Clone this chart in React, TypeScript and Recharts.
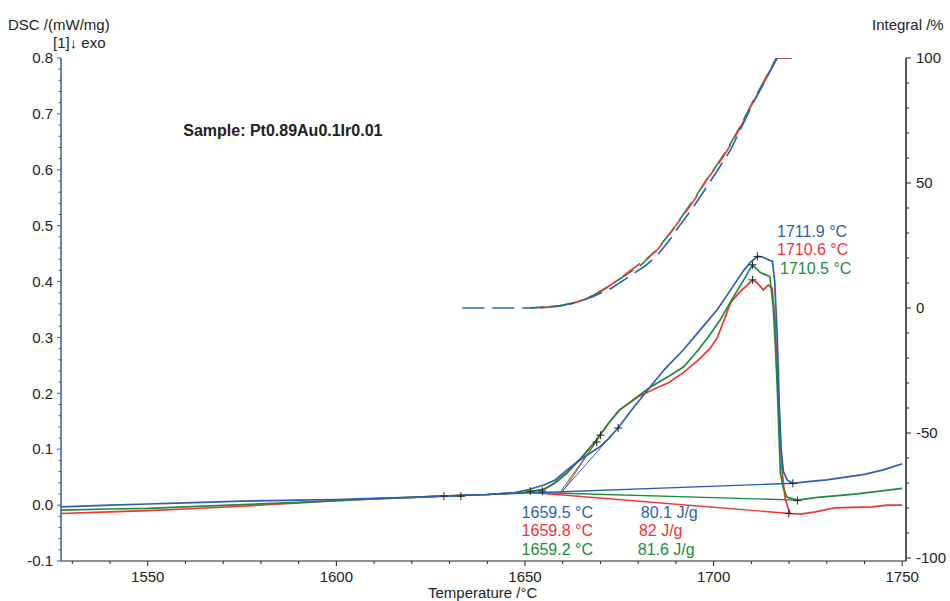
import { ComposedChart, Line, Scatter, XAxis, YAxis, ReferenceDot } from "recharts";

const FONT = "'Liberation Sans', Arial, sans-serif";
const BLUE = "#2b5fb4";
const RED = "#ee3535";
const GREEN = "#1d8a3e";

// DSC signal, [temperature °C, mW/mg]
const dscBlue = [
  [1527, -0.003], [1540, 0.0], [1550, 0.002], [1560, 0.004], [1575, 0.007], [1590, 0.009],
  [1600, 0.01], [1610, 0.012], [1620, 0.014], [1628, 0.016], [1640, 0.019], [1647, 0.022],
  [1651, 0.028], [1655, 0.036], [1658, 0.045], [1661, 0.062], [1664, 0.078], [1667, 0.092],
  [1670, 0.105], [1672, 0.118], [1674.7, 0.138], [1678, 0.168], [1683, 0.21], [1687, 0.243],
  [1692, 0.278], [1696, 0.31], [1701, 0.35], [1705, 0.39], [1708, 0.42], [1709.7, 0.434],
  [1711.6, 0.445], [1713, 0.444], [1714.2, 0.44], [1715.6, 0.436], [1716.2, 0.4], [1716.9, 0.296],
  [1717.4, 0.18], [1717.9, 0.1], [1718.5, 0.06], [1719.5, 0.045], [1721, 0.039], [1725, 0.042],
  [1730, 0.045], [1735, 0.05], [1740, 0.055], [1745, 0.063], [1750, 0.074],
];
const dscRed = [
  [1527, -0.015], [1540, -0.012], [1550, -0.01], [1560, -0.007], [1575, -0.002], [1590, 0.004],
  [1600, 0.008], [1610, 0.011], [1620, 0.014], [1628, 0.016], [1640, 0.019], [1650, 0.023],
  [1655, 0.028], [1658, 0.04], [1661, 0.057], [1665, 0.085], [1669, 0.117], [1672, 0.145],
  [1675, 0.17], [1680, 0.194], [1684, 0.207], [1688, 0.219], [1692, 0.237], [1696, 0.26],
  [1699, 0.28], [1701, 0.3], [1703, 0.335], [1704.5, 0.362], [1707, 0.382], [1709, 0.394],
  [1710.3, 0.403], [1711.5, 0.398], [1713.2, 0.385], [1714.5, 0.394], [1715.5, 0.388],
  [1716.3, 0.33], [1716.9, 0.237], [1717.6, 0.13], [1718.2, 0.057], [1719, 0.01], [1720.3, -0.015],
  [1723, -0.016], [1727, -0.012], [1732, -0.005], [1737, -0.004], [1742, -0.003], [1746, 0.0],
  [1750, 0.0],
];
const dscGreen = [
  [1527, -0.009], [1540, -0.007], [1550, -0.006], [1560, -0.003], [1575, 0.001], [1590, 0.005],
  [1600, 0.008], [1610, 0.011], [1620, 0.014], [1628, 0.016], [1640, 0.019], [1650, 0.023],
  [1655, 0.028], [1658, 0.04], [1661, 0.057], [1665, 0.085], [1669, 0.117], [1672, 0.145],
  [1675, 0.17], [1679, 0.19], [1683, 0.21], [1688, 0.23], [1692, 0.247], [1696, 0.278],
  [1699, 0.305], [1701.8, 0.332], [1705, 0.37], [1708, 0.403], [1710.3, 0.43], [1712.4, 0.416],
  [1714.9, 0.409], [1715.8, 0.355], [1716.4, 0.28], [1716.9, 0.206], [1717.7, 0.057],
  [1718.5, 0.03], [1719.5, 0.014], [1722.2, 0.009], [1727.5, 0.014], [1733, 0.017],
  [1738, 0.02], [1744, 0.025], [1750, 0.03],
];

// peak integration baselines and onset tangents
const baseBlue = [[1628.5, 0.016], [1721, 0.039]];
const baseRed = [[1651, 0.023], [1720.3, -0.015]];
const baseGreen = [[1651, 0.023], [1722.2, 0.009]];
const tangentBlue = [[1659.5, 0.022], [1674.7, 0.138]];
const tangentRed = [[1659.8, 0.022], [1670, 0.125]];
const tangentGreen = [[1659.2, 0.022], [1669, 0.114]];

// partial area integral, %
const intBlue = [
  [1633.4, 0], [1651, 0], [1656, 0.5], [1660, 1], [1663, 2], [1668, 4.5], [1673, 8], [1678, 13],
  [1682, 17], [1685, 21], [1688, 26.5], [1691, 33], [1694, 39], [1698, 48], [1701, 55],
  [1704.4, 63], [1707, 71], [1710.5, 82], [1713, 89], [1715, 95], [1716.9, 100], [1720.8, 100],
];
const intRed = [
  [1654, 0], [1658, 0.5], [1662, 1.5], [1666, 3.5], [1670, 6.5], [1674, 10.5], [1678, 15],
  [1682, 19.5], [1685, 23], [1689, 31], [1692, 37], [1695, 43.5], [1698, 51], [1701, 57],
  [1704, 64], [1707, 72], [1710, 81], [1714, 92], [1716.9, 100], [1720.8, 100],
];
const intGreen = [
  [1651.4, 0], [1656, 0.4], [1660, 1.2], [1664, 2.5], [1668, 5], [1672, 8.5], [1676, 12.5],
  [1680.6, 17], [1685, 23.5], [1689, 31], [1692, 37.5], [1695, 44], [1698, 51], [1701, 57.5],
  [1704, 64.5], [1707, 72.5], [1710, 81.5], [1714, 92.5], [1716.6, 100], [1720.8, 100],
];

const markers = [
  [1628.5, 0.016], [1633, 0.016], [1651.4, 0.025], [1654.6, 0.025], [1669, 0.113],
  [1670, 0.125], [1674.7, 0.138], [1711.6, 0.445], [1710.3, 0.43], [1710.3, 0.403],
  [1721, 0.039], [1722.2, 0.008], [1719.9, -0.015],
];

const peakTexts = ["1711.9 °C", "1710.6 °C", "1710.5 °C"];
const onsetTexts = ["1659.5 °C", "1659.8 °C", "1659.2 °C"];
const areaTexts = ["80.1 J/g", "82 J/g", "81.6 J/g"];
const textColors = [BLUE, RED, GREEN];
const peakTextAt = [[1716.8, 0.49], [1716.8, 0.458], [1717.6, 0.424]];
const onsetTextAt = [[1649.1, -0.013], [1649.1, -0.045], [1649.1, -0.079]];
const areaTextAt = [[1680.7, -0.013], [1680.2, -0.045], [1679.9, -0.079]];
const sampleText = "Sample: Pt0.89Au0.1Ir0.01";
const sampleAt = [1559.4, 0.671];

const tempTicks = Array.from({ length: 23 }, (_, i) => 1530 + i * 10);
const dscTicks = Array.from({ length: 46 }, (_, i) => Math.round((-0.1 + i * 0.02) * 100) / 100);
const intTicks = Array.from({ length: 21 }, (_, i) => -100 + i * 10);

const pts = (arr: number[][]) => arr.map(([t, v]) => ({ t, v }));

const isMult = (v: number, step: number) => Math.abs(v / step - Math.round(v / step)) < 1e-6;

const TempTick = ({ x, y, payload }: any) => {
  const major = isMult(payload.value, 50);
  return (
    <g>
      <line x1={x} x2={x} y1={y} y2={y + (major ? 5 : 3)} stroke="#222" />
      {major && (
        <text x={x} y={y + 21} textAnchor="middle" fontSize={15} fill="#222" fontFamily={FONT}>
          {payload.value}
        </text>
      )}
    </g>
  );
};

const DscTick = ({ x, y, payload }: any) => {
  const major = isMult(payload.value, 0.1);
  return (
    <g>
      <line x1={x - (major ? 4 : 2.5)} x2={x} y1={y} y2={y} stroke={BLUE} />
      {major && (
        <text x={x - 8} y={y} dy="0.35em" textAnchor="end" fontSize={15} fill="#222" fontFamily={FONT}>
          {payload.value.toFixed(1)}
        </text>
      )}
    </g>
  );
};

const IntTick = ({ x, y, payload }: any) => {
  const major = isMult(payload.value, 50);
  return (
    <g>
      <line x1={x} x2={x + (major ? 5 : 3)} y1={y} y2={y} stroke="#222" />
      {major && (
        <text x={x + 10} y={y} dy="0.35em" textAnchor="start" fontSize={15} fill="#222" fontFamily={FONT}>
          {payload.value}
        </text>
      )}
    </g>
  );
};

const Cross = ({ cx, cy }: any) => (
  <g stroke="#222" strokeWidth={1}>
    <line x1={cx - 4} x2={cx + 4} y1={cy} y2={cy} />
    <line x1={cx} x2={cx} y1={cy - 4} y2={cy + 4} />
  </g>
);

const thin = (data: number[][], color: string, w: number, axis = "dsc", dash?: string) => (
  <Line
    data={pts(data)}
    dataKey="v"
    yAxisId={axis}
    type="linear"
    stroke={color}
    strokeWidth={w}
    strokeDasharray={dash}
    dot={false}
    activeDot={false}
    isAnimationActive={false}
  />
);

const label = (at: number[], text: string, color: string, bold = false) => (
  <ReferenceDot
    x={at[0]}
    y={at[1]}
    yAxisId="dsc"
    r={0}
    fill="none"
    stroke="none"
    ifOverflow="visible"
    label={{
      value: text,
      position: "right",
      offset: 0,
      fill: color,
      fontSize: 16,
      fontWeight: bold ? "bold" : "normal",
      fontFamily: FONT,
    }}
  />
);

export default function App() {
  return (
    <div style={{ position: "absolute", left: 0, top: 0, width: 950, height: 601, background: "#fff" }}>
      <ComposedChart width={950} height={601} margin={{ top: 58, right: 0, bottom: 0, left: 0 }}>
        <XAxis
          dataKey="t"
          type="number"
          domain={[1527, 1751]}
          ticks={tempTicks}
          interval={0}
          allowDataOverflow
          height={40}
          tickSize={0}
          tickMargin={0}
          tickLine={false}
          axisLine={{ stroke: "#222" }}
          tick={<TempTick />}
        />
        <YAxis
          yAxisId="dsc"
          type="number"
          domain={[-0.1, 0.8]}
          ticks={dscTicks}
          interval={0}
          allowDataOverflow
          width={61}
          tickSize={0}
          tickMargin={0}
          tickLine={false}
          axisLine={{ stroke: BLUE, strokeWidth: 1.5 }}
          tick={<DscTick />}
        />
        <YAxis
          yAxisId="int"
          orientation="right"
          type="number"
          domain={[-101.2, 100]}
          ticks={intTicks}
          interval={0}
          allowDataOverflow
          width={44}
          tickSize={0}
          tickMargin={0}
          tickLine={false}
          axisLine={{ stroke: "#222", strokeWidth: 1.5 }}
          tick={<IntTick />}
        />

        {thin(intGreen, GREEN, 1.6, "int", "22 8")}
        {thin(intRed, RED, 1.6, "int", "22 8")}
        {thin(intBlue, BLUE, 1.6, "int", "22 8")}

        {thin(baseRed, RED, 1.4)}
        {thin(baseGreen, GREEN, 1.4)}
        {thin(baseBlue, BLUE, 1.4)}
        {thin(tangentRed, RED, 1)}
        {thin(tangentGreen, GREEN, 1)}
        {thin(tangentBlue, BLUE, 1)}

        {thin(dscRed, RED, 1.7)}
        {thin(dscGreen, GREEN, 1.7)}
        {thin(dscBlue, BLUE, 1.7)}

        <Scatter data={pts(markers)} dataKey="v" yAxisId="dsc" shape={<Cross />} isAnimationActive={false} />

        {label(sampleAt, sampleText, "#222", true)}
        {peakTexts.map((s, i) => label(peakTextAt[i], s, textColors[i]))}
        {onsetTexts.map((s, i) => label(onsetTextAt[i], s, textColors[i]))}
        {areaTexts.map((s, i) => label(areaTextAt[i], s, textColors[i]))}
      </ComposedChart>
      <svg
        width={950}
        height={601}
        style={{ position: "absolute", left: 0, top: 0, pointerEvents: "none" }}
        fontFamily={FONT}
        fontSize={15}
        fill="#222"
      >
        <text x={8} y={30}>DSC /(mW/mg)</text>
        <text x={53} y={48}>[1]↓  exo</text>
        <text x={872} y={30}>Integral /%</text>
        <text x={428} y={598}>Temperature /°C</text>
      </svg>
    </div>
  );
}
